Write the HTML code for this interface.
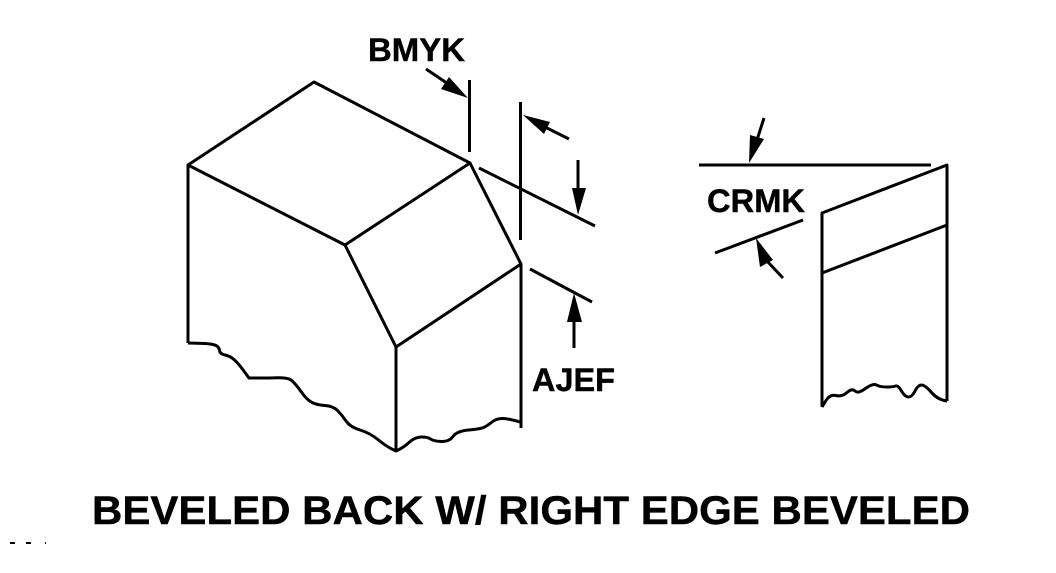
<!DOCTYPE html>
<html>
<head>
<meta charset="utf-8">
<style>
html,body{margin:0;padding:0;background:#fff;width:1056px;height:573px;overflow:hidden}
svg{display:block}
text{font-family:"Liberation Sans",Arial,sans-serif;font-weight:bold;fill:#000;stroke:#000;stroke-width:.4}
</style>
</head>
<body>
<svg width="1056" height="573" viewBox="0 0 1056 573" xmlns="http://www.w3.org/2000/svg">
<g fill="none" stroke="#000" stroke-width="3" stroke-linejoin="round">
<path d="M188 343V165L314 82L470 163L345 245L188 165"/>
<path d="M470 163L521 264L396 347L345 245"/>
<path d="M396 347V451"/>
<path d="M521 264V428"/>
<path d="M188 343L205 343.500Q213 344 216 345.500Q219 347 219.500 350.500Q220 354 225 355Q230 356 234 359.500Q238 363 243.500 370.500L249 378L270 378Q287 377 291 380Q295 383 301 391.500Q307 400 312 402.500Q317 405 325 405.500Q333 406 337.500 410.500Q342 415 346 421Q350 427 360 430Q370 433 378.500 440Q387 447 396 451Q403 448 409 442.500Q415 437 421.500 437Q428 437 430.500 439Q433 441 441 441.500Q449 442 453 436.500Q457 431 468.500 430Q480 429 483.500 427.500Q487 426 492 422Q497 418 503.500 418.500Q510 419 520 422"/>
<path d="M469.500 80V152"/>
<path d="M426 69L460 92"/>
<path d="M520.500 102V240"/>
<path d="M535 122L569 139"/>
<path d="M479 168L595 226"/>
<path d="M578 160V195"/>
<path d="M530 269L592 302"/>
<path d="M574 315V348"/>
<path d="M699 165H931"/>
<path d="M757 140L764 118"/>
<path d="M715 253L803 220"/>
<path d="M766 260L783 278"/>
<path d="M822 407V213L947 165V401"/>
<path d="M822 273L947 225"/>
<path d="M822 407L826 400.500Q830 394 836 395.500Q842 397 847 392.500Q852 388 855 391Q858 394 865.500 388.500Q873 383 876.500 385Q880 387 886.500 387Q893 387 895.500 386Q898 385 901.500 391Q905 397 908.500 397Q912 397 915 391Q918 385 921.500 385Q925 385 931.500 392.500Q938 400 947 401"/>
</g>
<g fill="#000">
<polygon points="468,98 449,77 441,89"/>
<polygon points="523,115 550,122 544,134"/>
<polygon points="578,215 572,188 586,188"/>
<polygon points="574,293 567,322 582,322"/>
<polygon points="749,163 750,135 764,139"/>
<polygon points="756,238 760,267 773,260"/>
<rect x="10" y="542" width="5" height="2"/>
<rect x="26" y="542" width="5" height="2"/>
<rect x="45" y="542" width="1" height="2"/>
</g>
<text x="368" y="61" font-size="32" textLength="97" lengthAdjust="spacingAndGlyphs">BMYK</text>
<text x="707" y="212" font-size="32" textLength="98" lengthAdjust="spacingAndGlyphs">CRMK</text>
<text x="532" y="391" font-size="32" textLength="83" lengthAdjust="spacingAndGlyphs">AJEF</text>
<text x="92" y="524" font-size="39.500" textLength="878" lengthAdjust="spacingAndGlyphs">BEVELED BACK W/ RIGHT EDGE BEVELED</text>
</svg>
</body>
</html>
